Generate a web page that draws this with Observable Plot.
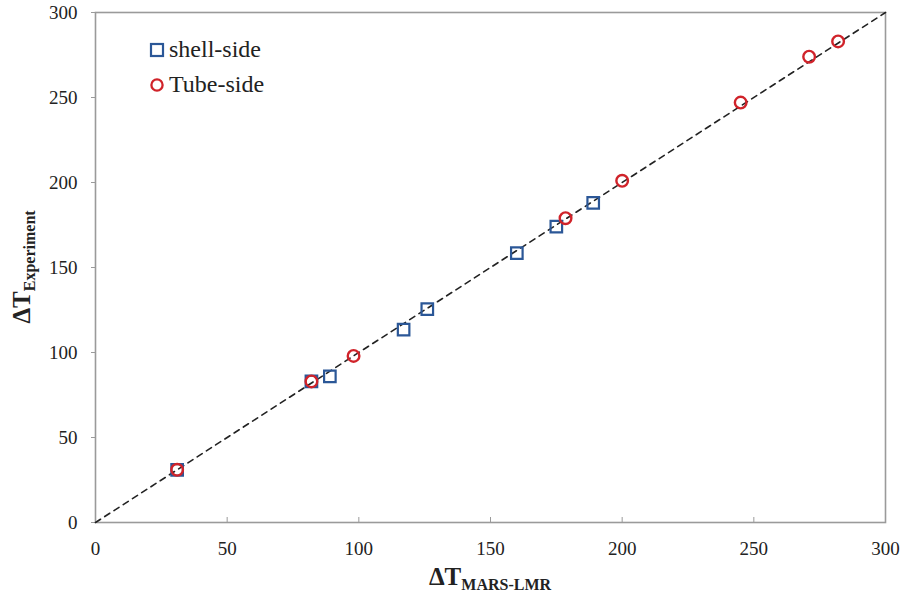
<!DOCTYPE html>
<html>
<head>
<meta charset="utf-8">
<script src="https://cdn.jsdelivr.net/npm/d3@7"></script>
<script src="https://cdn.jsdelivr.net/npm/@observablehq/plot@0.6"></script>
<style>
  html, body { margin: 0; padding: 0; background: #fff; }
  #chart { width: 904px; height: 598px; }
  svg text, svg tspan { font-family: "Liberation Serif", "Times New Roman", serif !important; }
</style>
</head>
<body>
<div id="chart"></div>
<script>
// Data
const shellMars = [31, 82, 89, 117, 126, 160, 175, 189];
const shellExp  = [31, 83, 86, 113.5, 125.5, 158.5, 174, 188];
const tubeMars  = [31, 82, 98, 178.5, 200, 245, 271, 282];
const tubeExp   = [31, 83, 98, 179, 201, 247, 274, 283];
const lineX = [0, 300];
const ticks = [0, 50, 100, 150, 200, 250, 300];
const seriesNames = ["shell-side", "Tube-side"];

const shell = shellMars.map((x, i) => ({x, y: shellExp[i]}));
const tube = tubeMars.map((x, i) => ({x, y: tubeExp[i]}));
const diag = lineX.map(v => ({x: v, y: v}));

const blue = "#2b5797";
const red = "#d0232a";
const serif = "Liberation Serif, Times New Roman, serif";

const plot = Plot.plot({
  width: 904,
  height: 598,
  marginLeft: 95,
  marginRight: 19,
  marginTop: 12,
  marginBottom: 76,
  style: {fontFamily: serif, fontSize: "19px", background: "#fff", color: "#222"},
  x: {domain: [0, 300], ticks: ticks, label: null},
  y: {domain: [0, 300], ticks: ticks, label: null},
  marks: [
    Plot.frame({stroke: "#9a9a9a", strokeWidth: 1.6}),
    Plot.axisX({ticks: ticks, tickSize: -5, tickPadding: 24, stroke: "#9a9a9a", fontSize: 19, fill: "#222", fontFamily: serif}),
    Plot.axisY({ticks: ticks, tickSize: 4, tickPadding: 14, stroke: "#9a9a9a", fontSize: 19, fill: "#222", fontFamily: serif}),
    Plot.line(diag, {x: "x", y: "y", stroke: "#222", strokeWidth: 1.6, strokeDasharray: "6,5"}),
    Plot.dot(shell, {x: "x", y: "y", symbol: "square", r: 6.5, stroke: blue, strokeWidth: 2.2, fill: "none"}),
    Plot.dot(tube, {x: "x", y: "y", symbol: "circle", r: 5.8, stroke: red, strokeWidth: 2.4, fill: "none"})
  ]
});
document.getElementById("chart").appendChild(plot);

const svg = d3.select(plot);
// Axis titles with subscripts
const xt = svg.append("text")
  .attr("x", 490).attr("y", 585)
  .attr("text-anchor", "middle")
  .style("font-weight", "bold").attr("fill", "#222");
xt.append("tspan").style("font-size", "25px").text("ΔT");
xt.append("tspan").style("font-size", "16px").attr("dy", 5).text("MARS-LMR");

const yt = svg.append("text")
  .attr("transform", "translate(30,267) rotate(-90)")
  .attr("text-anchor", "middle")
  .style("font-weight", "bold").attr("fill", "#222");
yt.append("tspan").style("font-size", "25px").text("ΔT");
yt.append("tspan").style("font-size", "16px").attr("dy", 5).text("Experiment");

// Legend
const lg = svg.append("g").attr("text-anchor", "start");
lg.append("rect").attr("x", 151).attr("y", 44).attr("width", 12).attr("height", 12)
  .attr("fill", "none").attr("stroke", blue).attr("stroke-width", 2.2);
lg.append("text").attr("x", 169).attr("y", 57).attr("text-anchor", "start").style("font-size", "24px").attr("fill", "#222")
  .text(seriesNames[0]);
lg.append("circle").attr("cx", 157).attr("cy", 85).attr("r", 5.6)
  .attr("fill", "none").attr("stroke", red).attr("stroke-width", 2.3);
lg.append("text").attr("x", 169).attr("y", 92).attr("text-anchor", "start").style("font-size", "24px").attr("fill", "#222")
  .text(seriesNames[1]);
</script>
</body>
</html>
